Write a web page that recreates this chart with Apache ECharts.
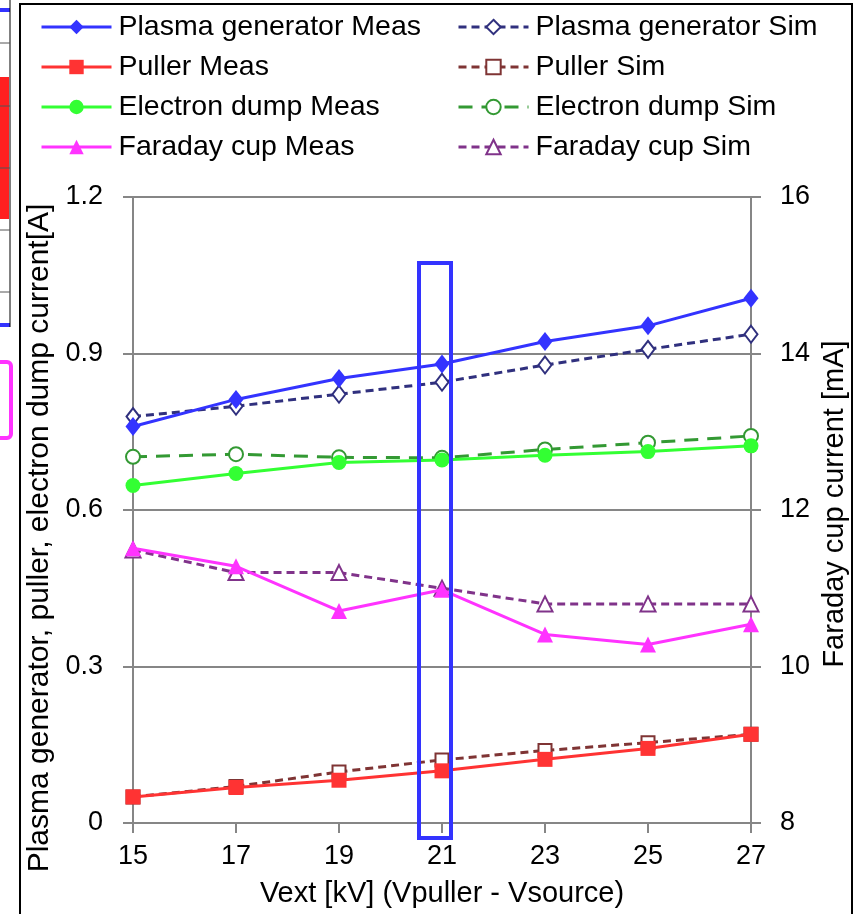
<!DOCTYPE html>
<html>
<head>
<meta charset="utf-8">
<script src="https://cdn.jsdelivr.net/npm/echarts@6/dist/echarts.min.js"></script>
<style>
html,body{margin:0;padding:0;background:#fff;}
#chart{width:858px;height:914px;}
</style>
</head>
<body>
<div id="chart"></div>
<script>
// ---- data ----
var vext = ['15', '17', '19', '21', '23', '25', '27'];
var plasmaMeas = [0.760, 0.812, 0.852, 0.880, 0.923, 0.953, 1.006];
var plasmaSim  = [0.779, 0.799, 0.822, 0.845, 0.878, 0.908, 0.937];
var pullerMeas = [0.050, 0.068, 0.082, 0.100, 0.122, 0.143, 0.170];
var pullerSim  = [0.050, 0.070, 0.098, 0.121, 0.139, 0.154, 0.170];
var dumpMeas   = [0.647, 0.670, 0.691, 0.696, 0.705, 0.712, 0.723];
var dumpSim    = [0.702, 0.707, 0.701, 0.700, 0.716, 0.729, 0.742];
var faradayMeas = [11.51, 11.28, 10.71, 10.98, 10.41, 10.28, 10.54];
var faradaySim  = [11.49, 11.20, 11.20, 11.00, 10.80, 10.80, 10.80];
var leftTicks = [0, 0.3, 0.6, 0.9, 1.2];
var rightTicks = [8, 10, 12, 14, 16];

var FONT = '"Liberation Sans", Arial, sans-serif';
var chart = echarts.init(document.getElementById('chart'));

function meas(name, data, color, symbol, size, yIdx) {
  return {
    name: name, type: 'line', data: data, yAxisIndex: yIdx || 0,
    symbol: symbol, symbolSize: size,
    lineStyle: { color: color, width: 3 },
    itemStyle: { color: color, borderColor: color, borderWidth: 0 },
    z: 3, animation: false
  };
}
function sim(name, data, color, symbol, size, dash, yIdx) {
  return {
    name: name, type: 'line', data: data, yAxisIndex: yIdx || 0,
    symbol: symbol, symbolSize: size,
    lineStyle: { color: color, width: 3, type: dash },
    itemStyle: { color: color, borderColor: color, borderWidth: 2 },
    z: 2, animation: false
  };
}

var legendText = { fontFamily: FONT, fontSize: 28.5, color: '#000', lineHeight: 30, padding: [0, 0, 0, 2] };

var option = {
  backgroundColor: '#ffffff',
  animation: false,
  textStyle: { fontFamily: FONT },
  grid: { left: 133, right: 107, top: 197, bottom: 91 },
  legend: [
    {
      orient: 'vertical', left: 35, top: 7, padding: 5,
      itemWidth: 70, itemHeight: 18, itemGap: 10,
      lineStyle: { width: 3 },
      textStyle: legendText,
      data: ['Plasma generator Meas', 'Puller Meas', 'Electron dump Meas', 'Faraday cup Meas']
    },
    {
      orient: 'vertical', left: 452, top: 7, padding: 5,
      itemWidth: 70, itemHeight: 18, itemGap: 10,
      lineStyle: { width: 3 },
      textStyle: legendText,
      data: ['Plasma generator Sim', 'Puller Sim', 'Electron dump Sim', 'Faraday cup Sim']
    }
  ],
  xAxis: {
    type: 'category', data: vext, boundaryGap: false,
    name: 'Vext [kV] (Vpuller - Vsource)', nameLocation: 'middle', nameGap: 56,
    nameTextStyle: { fontFamily: FONT, fontSize: 29, color: '#000' },
    axisLine: { lineStyle: { color: '#868686', width: 2 } },
    axisTick: { show: true, length: 10, alignWithLabel: true, lineStyle: { color: '#868686', width: 2 } },
    axisLabel: { fontFamily: FONT, fontSize: 27, color: '#000', margin: 20 },
    splitLine: { show: false }
  },
  yAxis: [
    {
      type: 'value', min: 0, max: 1.2, interval: 0.3, position: 'left',
      name: 'Plasma generator, puller, electron dump current[A]',
      nameLocation: 'middle', nameGap: 68, nameRotate: 90,
      nameTextStyle: { fontFamily: FONT, fontSize: 30, color: '#000', padding: [0, 56, 0, 0] },
      axisLine: { show: true, lineStyle: { color: '#868686', width: 2 } },
      axisTick: { show: true, length: 10, lineStyle: { color: '#868686', width: 2 } },
      axisLabel: {
        fontFamily: FONT, fontSize: 27, color: '#000', margin: 30,
        formatter: function (v) { return v === 0 ? '0' : v.toFixed(1); }
      },
      splitLine: { show: true, lineStyle: { color: '#868686', width: 2 } }
    },
    {
      type: 'value', min: 8, max: 16, interval: 2, position: 'right',
      name: 'Faraday cup current [mA]',
      nameLocation: 'middle', nameGap: 63, nameRotate: 90,
      nameTextStyle: { fontFamily: FONT, fontSize: 29, color: '#000', padding: [0, 0, 0, 12] },
      axisLine: { show: true, lineStyle: { color: '#868686', width: 2 } },
      axisTick: { show: true, length: 10, lineStyle: { color: '#868686', width: 2 } },
      axisLabel: { fontFamily: FONT, fontSize: 27, color: '#000', margin: 29 },
      splitLine: { show: false }
    }
  ],
  series: [
    sim('Plasma generator Sim', plasmaSim, '#30307e', 'emptyDiamond', [13, 17], [8, 5]),
    sim('Puller Sim', pullerSim, '#7f3434', 'emptyRect', 13, [8, 5]),
    sim('Electron dump Sim', dumpSim, '#339933', 'emptyCircle', 14, [14, 9]),
    sim('Faraday cup Sim', faradaySim, '#80338a', 'emptyTriangle', 15, [8, 5], 1),
    meas('Plasma generator Meas', plasmaMeas, '#3333ff', 'diamond', [15, 19]),
    meas('Puller Meas', pullerMeas, '#ff3333', 'rect', 15),
    meas('Electron dump Meas', dumpMeas, '#33ff33', 'circle', 15),
    meas('Faraday cup Meas', faradayMeas, '#ff33ff', 'triangle', 16, 1)
  ],
  graphic: [
    // outer frame
    { type: 'rect', z: 100, shape: { x: 20, y: 4, width: 832, height: 920 },
      style: { fill: 'none', stroke: '#000', lineWidth: 2 } },
    // highlight box around Vext = 21
    { type: 'rect', z: 100, shape: { x: 419, y: 263, width: 32, height: 575 },
      style: { fill: 'none', stroke: '#3333ff', lineWidth: 4 } },
    // cropped neighbouring figure fragments at left edge
    { type: 'rect', z: 100, shape: { x: 0, y: 77, width: 9, height: 142 }, style: { fill: '#ff2020' } },
    { type: 'rect', z: 100, shape: { x: 0, y: 8, width: 10, height: 4 }, style: { fill: '#3333ff' } },
    { type: 'rect', z: 100, shape: { x: 0, y: 323, width: 10, height: 4 }, style: { fill: '#3333ff' } },
    { type: 'line', z: 100, shape: { x1: 10, y1: 0, x2: 10, y2: 327 }, style: { stroke: '#000', lineWidth: 1 } },
    { type: 'line', z: 100, shape: { x1: 0, y1: 43, x2: 10, y2: 43 }, style: { stroke: '#555', lineWidth: 1 } },
    { type: 'line', z: 100, shape: { x1: 0, y1: 106, x2: 10, y2: 106 }, style: { stroke: '#555', lineWidth: 1 } },
    { type: 'line', z: 100, shape: { x1: 0, y1: 168, x2: 10, y2: 168 }, style: { stroke: '#555', lineWidth: 1 } },
    { type: 'line', z: 100, shape: { x1: 0, y1: 230, x2: 10, y2: 230 }, style: { stroke: '#555', lineWidth: 1 } },
    { type: 'line', z: 100, shape: { x1: 0, y1: 292, x2: 10, y2: 292 }, style: { stroke: '#555', lineWidth: 1 } },
    { type: 'rect', z: 100, shape: { x: -10, y: 362, width: 21, height: 76, r: 4 },
      style: { fill: 'none', stroke: '#ff33ff', lineWidth: 4 } }
  ]
};
chart.setOption(option);
</script>
</body>
</html>
